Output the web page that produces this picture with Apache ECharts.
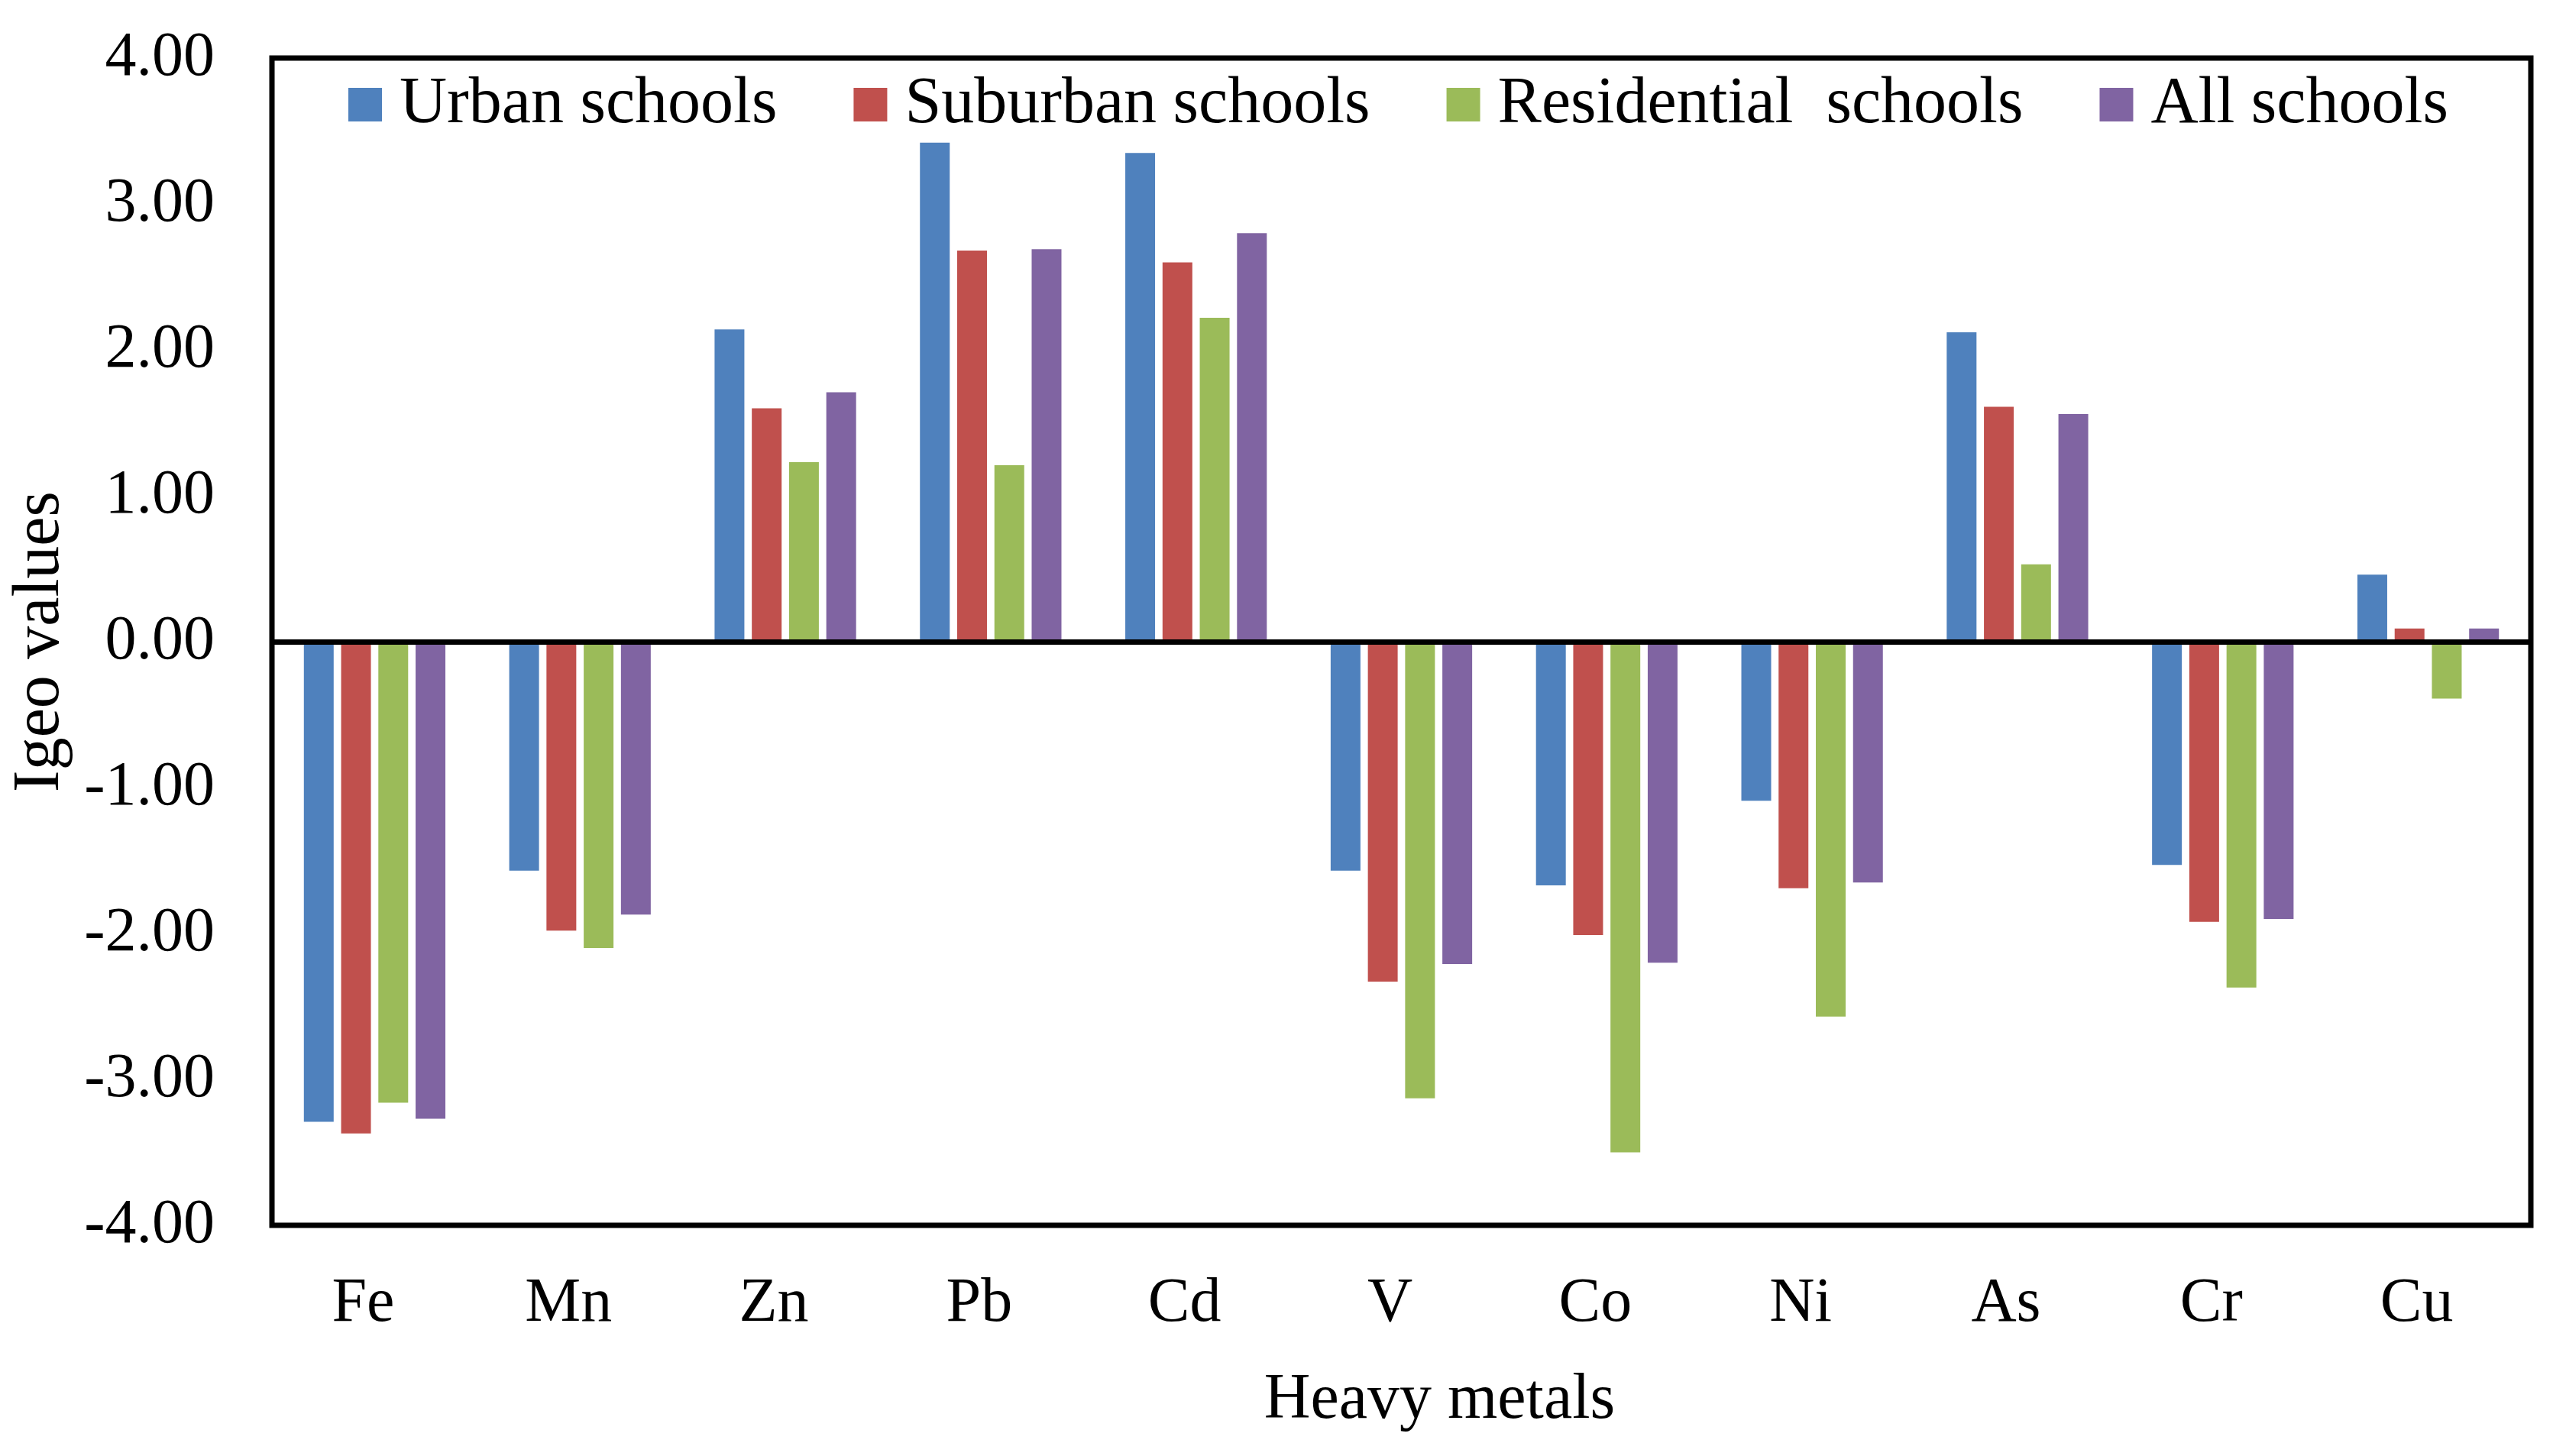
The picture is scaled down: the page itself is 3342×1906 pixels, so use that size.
<!DOCTYPE html>
<html>
<head>
<meta charset="utf-8">
<script src="https://cdn.jsdelivr.net/npm/echarts@6/dist/echarts.min.js"></script>
<style>
  html, body { margin: 0; padding: 0; background: #fff; }
  #chart { width: 3342px; height: 1906px; }
</style>
</head>
<body>
<div id="chart"></div>
<script>
// Igeo values by heavy metal
const metals = ["Fe", "Mn", "Zn", "Pb", "Cd", "V", "Co", "Ni", "As", "Cr", "Cu"];
const seriesNames = ["Urban schools", "Suburban schools", "Residential  schools", "All schools"];
const urban = [-3.29, -1.57, 2.14, 3.42, 3.35, -1.57, -1.67, -1.09, 2.12, -1.53, 0.46];
const suburban = [-3.37, -1.98, 1.60, 2.68, 2.60, -2.33, -2.01, -1.69, 1.61, -1.92, 0.09];
const residential = [-3.16, -2.10, 1.23, 1.21, 2.22, -3.13, -3.50, -2.57, 0.53, -2.37, -0.39];
const allSchools = [-3.27, -1.87, 1.71, 2.69, 2.80, -2.21, -2.20, -1.65, 1.56, -1.90, 0.09];

const colors = ["#4F81BD", "#C0504D", "#9BBB59", "#8064A2"];
const font = '"Times New Roman", "Liberation Serif", serif';

const chart = echarts.init(document.getElementById("chart"));

const values = [urban, suburban, residential, allSchools];
const series = values.map((data, i) => ({
  name: seriesNames[i],
  type: "bar",
  data: data,
  barWidth: 39,
  barGap: "25%",
  itemStyle: { color: colors[i] },
}));

// zero line drawn across the plot
series[0].markLine = {
  silent: true,
  symbol: "none",
  label: { show: false },
  lineStyle: { color: "#000", width: 7, type: "solid" },
  data: [{ yAxis: 0 }],
  z: 10,
};

const option = {
  animation: false,
  backgroundColor: "#fff",
  textStyle: { fontFamily: font, color: "#000" },
  color: colors,
  grid: {
    left: 356,
    right: 29,
    top: 76,
    bottom: 302,
    show: true,
    borderColor: "#000",
    borderWidth: 7,
    backgroundColor: "transparent",
  },
  legend: {
    data: seriesNames,
    left: 451,
    top: 89,
    icon: "rect",
    itemWidth: 44,
    itemHeight: 44,
    itemGap: 100,
    selectedMode: false,
    textStyle: {
      fontFamily: font,
      fontSize: 86,
      color: "#000",
      padding: [0, 0, 0, 18],
    },
  },
  xAxis: {
    type: "category",
    data: metals,
    name: "Heavy metals",
    nameLocation: "middle",
    nameGap: 188,
    nameTextStyle: {
      fontFamily: font,
      fontSize: 84,
      color: "#000",
      padding: [0, 0, 0, 100],
    },
    axisLine: { onZero: false, show: false },
    axisTick: { show: false },
    axisLabel: {
      fontFamily: font,
      fontSize: 82,
      color: "#000",
      margin: 62,
      padding: [0, 30, 0, 0],
    },
    splitLine: { show: false },
  },
  yAxis: {
    type: "value",
    min: -4,
    max: 4,
    interval: 1,
    name: "Igeo values",
    nameLocation: "middle",
    nameGap: 260,
    nameTextStyle: { fontFamily: font, fontSize: 86, color: "#000" },
    axisLine: { show: false },
    axisTick: { show: false },
    splitLine: { show: false },
    axisLabel: {
      fontFamily: font,
      fontSize: 82,
      color: "#000",
      margin: 75,
      formatter: (v) => v.toFixed(2),
    },
  },
  series: series,
};

chart.setOption(option);
</script>
</body>
</html>
